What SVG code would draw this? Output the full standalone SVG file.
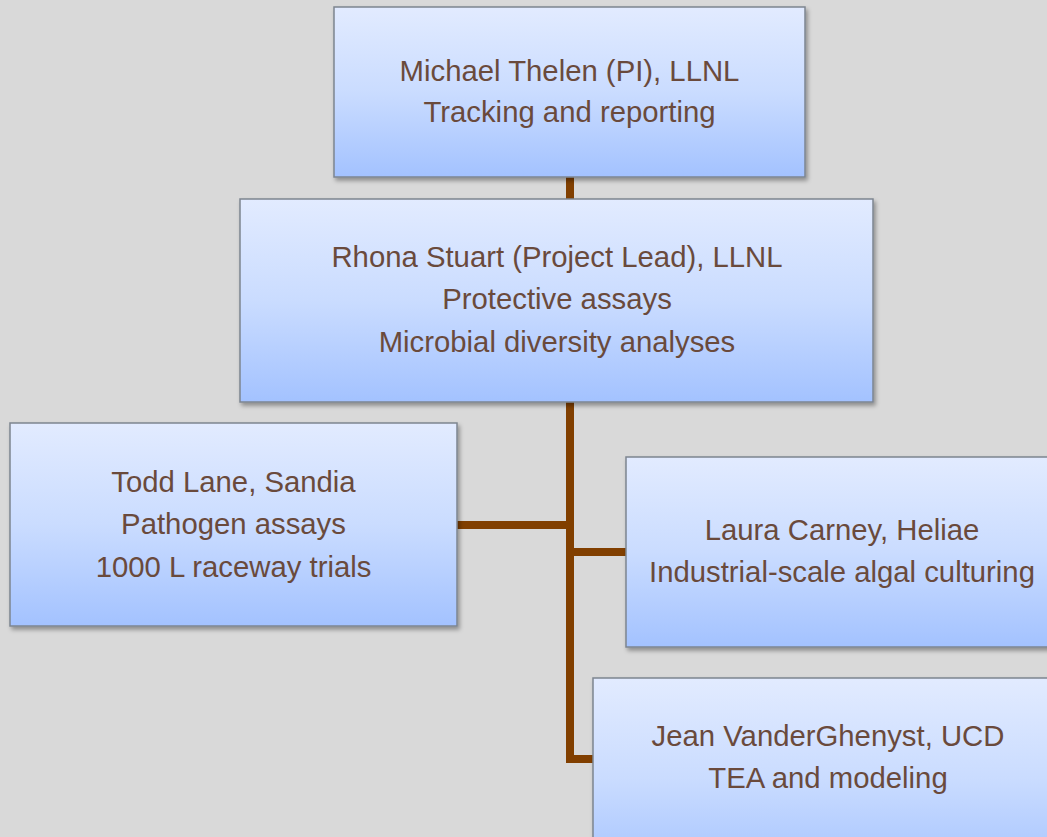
<svg xmlns="http://www.w3.org/2000/svg" width="1047" height="837" viewBox="0 0 1047 837">
<defs>
<linearGradient id="g" x1="0" y1="0" x2="0" y2="1">
<stop offset="0" stop-color="#e2ebff"/>
<stop offset="0.5" stop-color="#cadcff"/>
<stop offset="1" stop-color="#a3c2ff"/>
</linearGradient>
<filter id="sh" x="-10%" y="-10%" width="130%" height="130%">
<feDropShadow dx="2" dy="3" stdDeviation="2" flood-color="#000" flood-opacity="0.35"/>
</filter>
</defs>
<style>
.box{fill:url(#g);stroke:#7d8590;stroke-width:1.5;filter:url(#sh)}
.t{font-family:"Liberation Sans",Arial,sans-serif;font-size:29.3px;fill:#6a4a3c;text-anchor:middle}
.c{fill:none;stroke:#813f00;stroke-width:8;stroke-linejoin:miter}
</style>
<rect width="1047" height="837" fill="#d9d9d9"/>
<g id="connectors">
<line class="c" x1="570" y1="176" x2="570" y2="200"/>
<polyline class="c" points="570,402 570,759 594,759"/>
<line class="c" x1="456" y1="525" x2="570" y2="525"/>
<line class="c" x1="570" y1="552" x2="627" y2="552"/>
</g>
<g id="n1">
<rect class="box" x="334" y="7" width="471" height="170"/>
<text class="t" x="569.5" y="81">Michael Thelen (PI), LLNL</text>
<text class="t" x="569.5" y="122">Tracking and reporting</text>
</g>
<g id="n2">
<rect class="box" x="240" y="199" width="633" height="203"/>
<text class="t" x="557" y="267">Rhona Stuart (Project Lead), LLNL</text>
<text class="t" x="557" y="309">Protective assays</text>
<text class="t" x="557" y="352">Microbial diversity analyses</text>
</g>
<g id="n3">
<rect class="box" x="10" y="423" width="447" height="203"/>
<text class="t" x="233.5" y="492">Todd Lane, Sandia</text>
<text class="t" x="233.5" y="534">Pathogen assays</text>
<text class="t" x="233.5" y="577">1000 L raceway trials</text>
</g>
<g id="n4">
<rect class="box" x="626" y="457" width="432" height="190"/>
<text class="t" x="842" y="540">Laura Carney, Heliae</text>
<text class="t" x="842" y="582">Industrial-scale algal culturing</text>
</g>
<g id="n5">
<rect class="box" x="593" y="678" width="470" height="200"/>
<text class="t" x="828" y="746">Jean VanderGhenyst, UCD</text>
<text class="t" x="828" y="788">TEA and modeling</text>
</g>
</svg>
